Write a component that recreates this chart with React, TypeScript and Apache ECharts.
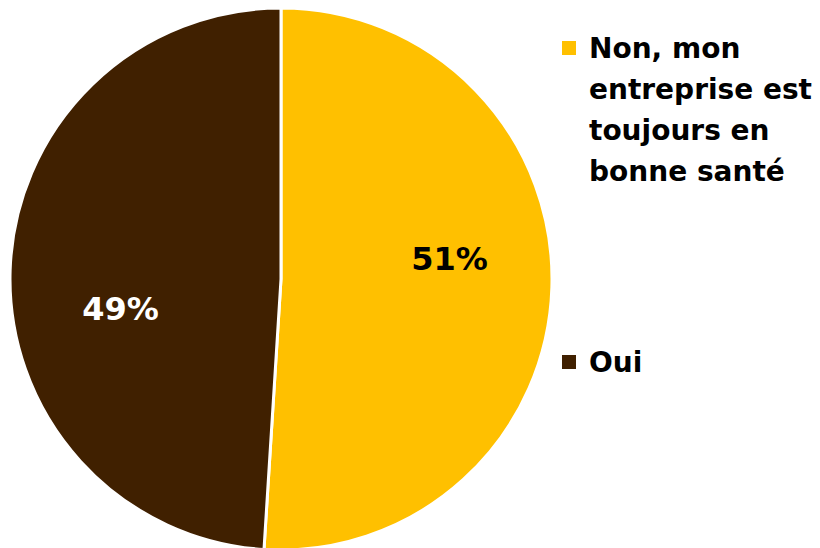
import React, { useEffect, useRef } from "react";
import * as echarts from "echarts";

const categories = ["Non, mon entreprise est toujours en bonne santé", "Oui"];
const legendLines = [["Non, mon", "entreprise est", "toujours en", "bonne santé"], ["Oui"]];
const values = [51, 49];
const colors = ["#FFC000", "#402000"];
const labelColors = ["#000000", "#FFFFFF"];

export default function App() {
  const ref = useRef<HTMLDivElement>(null);
  useEffect(() => {
    document.body.style.margin = "0";
    const chart = echarts.init(ref.current!, null, { renderer: "svg" });
    const font = "DejaVu Sans";
    const rich: any = {
      t: { fontFamily: font, fontWeight: "bold", fontSize: 28, color: "#000", lineHeight: 41 },
      s: { width: 13, height: 14 },
      p: { width: 27, height: 14 },
    };
    colors.forEach((c, i) => {
      rich["m" + i] = { width: 14, height: 14, backgroundColor: c };
    });
    const fmt = (name: string) => {
      const i = categories.indexOf(name);
      return legendLines[i]
        .map((l, k) => (k === 0 ? `{m${i}|}{s|}{t|${l}}` : `{p|}{t|${l}}`))
        .join("\n");
    };
    const legendTops = [34, 348];
    const labelRich = (color: string) => ({
      v: { fontFamily: font, fontWeight: "bold", fontSize: 32, lineHeight: 38, color },
      g: { fontSize: 10, lineHeight: 48, color },
      h: { fontSize: 10, lineHeight: 68, color },
    });
    chart.setOption({
      animation: false,
      color: colors,
      legend: categories.map((c, i) => ({
        data: [c],
        left: 557,
        top: legendTops[i],
        padding: 0,
        orient: "vertical",
        icon: "none",
        itemWidth: 0,
        itemGap: 0,
        formatter: fmt,
        textStyle: { rich },
        selectedMode: false,
      })),
      series: [
        {
          type: "pie",
          center: [281, 279],
          radius: 271,
          startAngle: 90,
          clockwise: true,
          itemStyle: { borderColor: "#FFFFFF", borderWidth: 3 },
          label: {
            show: true,
            position: "inside",
          },
          labelLine: { show: false },
          emphasis: { disabled: true },
          data: categories.map((c, i) => ({
            name: c,
            value: values[i],
            label: {
              formatter: i === 0 ? "{v|{c}%}\n{g| }" : "{h| }\n{v|{c}%}",
              rich: labelRich(labelColors[i]),
              padding: i === 0 ? [0, 0, 0, 60] : [0, 44, 0, 0],
            },
          })),
        },
      ],
    });
    return () => chart.dispose();
  }, []);
  return <div ref={ref} style={{ width: 820, height: 548 }} />;
}
